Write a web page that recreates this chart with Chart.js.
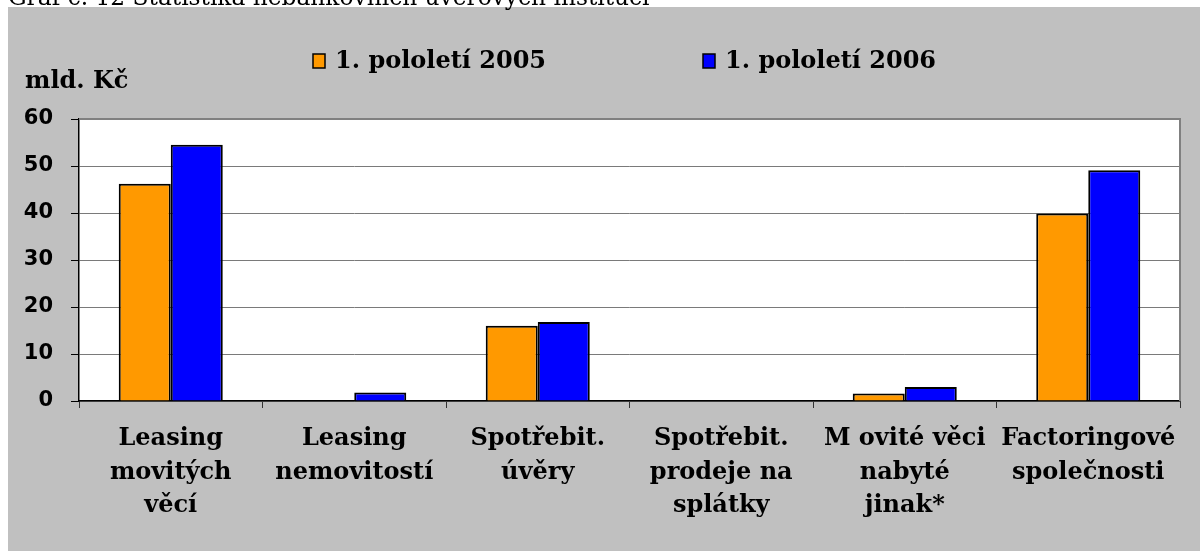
<!DOCTYPE html>
<html>
<head>
<meta charset="utf-8">
<script src="https://cdn.jsdelivr.net/npm/chart.js@4.4.1/dist/chart.umd.min.js"></script>
<style>
    html, body { margin: 0; padding: 0; background: #fff; }
    #wrap { width: 1200px; height: 551px; position: relative; }
</style>
</head>
<body>
<div id="wrap"><canvas id="nbankChart" width="1200" height="551"></canvas></div>
<script>
// chart data
const categories = [
    ['Leasing', 'movitých', 'věcí'],
    ['Leasing', 'nemovitostí'],
    ['Spotřebit.', 'úvěry'],
    ['Spotřebit.', 'prodeje na', 'splátky'],
    ['M ovité věci', 'nabyté', 'jinak*'],
    ['Factoringové', 'společnosti']
];
const seriesNames = ['1. pololetí 2005', '1. pololetí 2006'];
const values2005 = [46.2, 0, 16.0, 0, 1.6, 39.9];
const values2006 = [54.5, 1.8, 16.8, 0, 3.0, 49.1];
const yTicks = [0, 10, 20, 30, 40, 50, 60];

const titleText = 'Graf č. 12 Statistika nebankovních úvěrových institucí';
const unitText = 'mld. Kč';

const serifBold = "bold 24px 'DejaVu Serif', serif";

// background, plot frame, title, unit and legend
const decorPlugin = {
    id: 'decor',
    beforeDraw(chart) {
        const ctx = chart.ctx;
        const a = chart.chartArea;
        ctx.save();
        ctx.fillStyle = '#ffffff';
        ctx.fillRect(0, 0, chart.width, chart.height);
        ctx.fillStyle = '#c0c0c0';
        ctx.fillRect(8, 7, chart.width - 8, chart.height - 7);
        ctx.fillStyle = '#ffffff';
        ctx.fillRect(a.left, a.top, a.right - a.left, a.bottom - a.top);

        // cut-off caption above the box
        ctx.fillStyle = '#000';
        ctx.textBaseline = 'alphabetic';
        ctx.textAlign = 'left';
        let size = 20;
        ctx.font = size + "px 'DejaVu Serif', serif";
        size = size * 642 / ctx.measureText(titleText).width;
        ctx.font = size.toFixed(1) + "px 'DejaVu Serif', serif";
        ctx.fillText(titleText, 8, 5);
        ctx.restore();
    },
    afterDatasetsDraw(chart) {
        const ctx = chart.ctx;
        const a = chart.chartArea;
        ctx.save();
        // gray frame on top and right
        ctx.strokeStyle = '#808080';
        ctx.lineWidth = 2;
        ctx.beginPath();
        ctx.moveTo(a.left, a.top);
        ctx.lineTo(a.right, a.top);
        ctx.lineTo(a.right, a.bottom);
        ctx.stroke();

        ctx.fillStyle = '#000';
        ctx.font = serifBold;
        ctx.textBaseline = 'alphabetic';
        ctx.textAlign = 'left';
        ctx.fillText(unitText, 25, 88);

        // legend
        const legendX = [313, 703];
        chart.data.datasets.forEach((ds, i) => {
            const x = legendX[i];
            ctx.fillStyle = ds.backgroundColor;
            ctx.fillRect(x, 54, 12, 14);
            ctx.strokeStyle = '#000';
            ctx.lineWidth = 1.5;
            ctx.strokeRect(x, 54, 12, 14);
            ctx.fillStyle = '#000';
            ctx.fillText(ds.label, x + 22, 68);
        });
        ctx.restore();
    }
};

const ctx = document.getElementById('nbankChart').getContext('2d');
new Chart(ctx, {
    type: 'bar',
    data: {
        labels: categories,
        datasets: [
            {
                label: seriesNames[0],
                data: values2005,
                backgroundColor: '#ff9900',
                borderColor: '#000',
                borderWidth: 2,
                borderSkipped: 'bottom'
            },
            {
                label: seriesNames[1],
                data: values2006,
                backgroundColor: '#0000ff',
                borderColor: '#000',
                borderWidth: 2,
                borderSkipped: 'bottom'
            }
        ]
    },
    options: {
        responsive: false,
        animation: false,
        devicePixelRatio: 1,
        layout: {
            padding: { left: 8, top: 119, right: 20, bottom: 0 }
        },
        plugins: {
            legend: { display: false },
            title: { display: false },
            tooltip: { enabled: false }
        },
        datasets: {
            bar: { categoryPercentage: 0.567, barPercentage: 1.0 }
        },
        scales: {
            x: {
                offset: true,
                grid: {
                    offset: true,
                    drawOnChartArea: false,
                    drawTicks: true,
                    tickLength: 7,
                    color: '#333'
                },
                border: { color: '#000', width: 1.5 },
                ticks: {
                    color: '#000',
                    padding: 14,
                    maxRotation: 0,
                    autoSkip: false,
                    font: { family: "'DejaVu Serif', serif", size: 24, weight: 'bold', lineHeight: 1.4 }
                },
                afterFit(scale) { scale.height = 150; }
            },
            y: {
                min: 0,
                max: 60,
                afterBuildTicks(scale) {
                    scale.ticks = yTicks.map((v) => ({ value: v }));
                },
                grid: {
                    color: '#7a7a7a',
                    lineWidth: 1,
                    tickLength: 8,
                    tickColor: '#000'
                },
                border: { color: '#000', width: 1.5 },
                ticks: {
                    color: '#000',
                    padding: 18,
                    font: { family: "'DejaVu Sans', sans-serif", size: 21, weight: 'bold' }
                },
                afterFit(scale) { scale.width = 71; }
            }
        }
    },
    plugins: [decorPlugin]
});
</script>
</body>
</html>
